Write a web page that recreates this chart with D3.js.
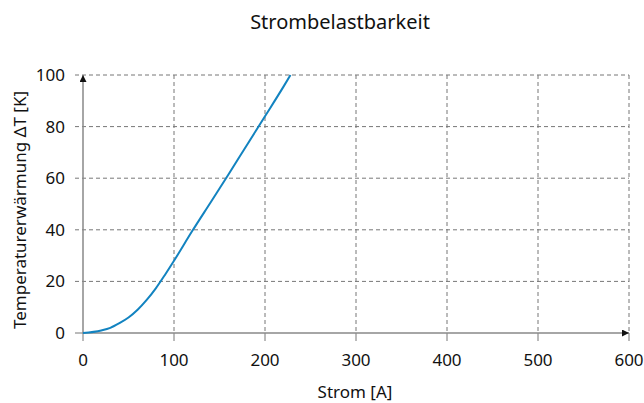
<!DOCTYPE html>
<html>
<head>
<meta charset="utf-8">
<script src="https://cdn.jsdelivr.net/npm/d3@7"></script>
<style>
  body { margin: 0; background: #fff; }
  text { font-family: "Noto Sans", "Open Sans", sans-serif; fill: #111; }
</style>
</head>
<body>
<svg id="chart"></svg>
<script>
const width = 644;
const height = 403;

// Strom [A]
const strom = [0, 20, 30, 40, 50, 60, 70, 80, 90, 100, 120, 140, 160, 180, 200, 220, 228];
// Temperaturerwärmung [K]
const deltaT = [0, 1, 2, 3.8, 6, 9, 12.8, 17.3, 22.5, 28, 39.5, 50.5, 61.5, 72.8, 84, 95.3, 100];

const xTicks = [0, 100, 200, 300, 400, 500, 600];
const yTicks = [0, 20, 40, 60, 80, 100];

const margin = {top: 75, right: 15, bottom: 70, left: 83};

const svg = d3.select("#chart")
  .attr("width", width)
  .attr("height", height);

const x = d3.scaleLinear().domain([0, 600]).range([margin.left, width - margin.right]);
const y = d3.scaleLinear().domain([0, 100]).range([height - margin.bottom, margin.top]);

const defs = svg.append("defs");
defs.append("marker")
  .attr("id", "arrow")
  .attr("viewBox", "0 0 10 10")
  .attr("refX", 10).attr("refY", 5)
  .attr("markerWidth", 10).attr("markerHeight", 7)
  .attr("markerUnits", "userSpaceOnUse")
  .attr("orient", "auto")
  .append("path")
  .attr("d", "M0,0L10,5L0,10Z")
  .attr("fill", "#111");

// grid lines (dashed) incl. the little tick stubs
svg.append("g")
  .selectAll("line")
  .data(yTicks.slice(1))
  .join("line")
  .attr("x1", x(0) - 8).attr("x2", x(600))
  .attr("y1", d => y(d)).attr("y2", d => y(d))
  .attr("stroke", "#777")
  .attr("stroke-dasharray", "4,3");

svg.append("g")
  .selectAll("line")
  .data(xTicks.slice(1))
  .join("line")
  .attr("x1", d => x(d)).attr("x2", d => x(d))
  .attr("y1", y(100)).attr("y2", y(0))
  .attr("stroke", "#777")
  .attr("stroke-dasharray", "4,3");

// tick stubs
svg.append("g")
  .selectAll("line")
  .data(xTicks)
  .join("line")
  .attr("x1", d => x(d)).attr("x2", d => x(d))
  .attr("y1", y(0)).attr("y2", y(0) + 8)
  .attr("stroke", "#777");

svg.append("line")
  .attr("x1", x(0) - 8).attr("x2", x(0))
  .attr("y1", y(0)).attr("y2", y(0))
  .attr("stroke", "#777");

// axes with arrows
svg.append("line")
  .attr("x1", x(0)).attr("x2", x(600))
  .attr("y1", y(0)).attr("y2", y(0))
  .attr("stroke", "#888").attr("stroke-width", 1.5)
  .attr("marker-end", "url(#arrow)");

svg.append("line")
  .attr("x1", x(0)).attr("x2", x(0))
  .attr("y1", y(0)).attr("y2", y(100))
  .attr("stroke", "#888").attr("stroke-width", 1.5)
  .attr("marker-end", "url(#arrow)");

// tick labels
svg.append("g")
  .selectAll("text")
  .data(xTicks)
  .join("text")
  .attr("x", d => x(d))
  .attr("y", y(0) + 33)
  .attr("text-anchor", "middle")
  .attr("font-size", 17)
  .text(d => d);

svg.append("g")
  .selectAll("text")
  .data(yTicks)
  .join("text")
  .attr("x", x(0) - 18)
  .attr("y", d => y(d) + 6)
  .attr("text-anchor", "end")
  .attr("font-size", 17)
  .text(d => d);

// curve
const pts = strom.map((s, i) => [s, deltaT[i]]);
svg.append("path")
  .datum(pts)
  .attr("fill", "none")
  .attr("stroke", "#1283c0")
  .attr("stroke-width", 2)
  .attr("d", d3.line().x(d => x(d[0])).y(d => y(d[1])).curve(d3.curveMonotoneX));

// titles
svg.append("text")
  .attr("x", 340).attr("y", 29)
  .attr("text-anchor", "middle")
  .attr("font-size", 20)
  .text("Strombelastbarkeit");

svg.append("text")
  .attr("x", 355).attr("y", 398)
  .attr("text-anchor", "middle")
  .attr("font-size", 17)
  .text("Strom [A]");

svg.append("text")
  .attr("transform", "translate(26,210) rotate(-90)")
  .attr("text-anchor", "middle")
  .attr("font-size", 17)
  .text("Temperaturerwärmung ΔT [K]");
</script>
</body>
</html>
